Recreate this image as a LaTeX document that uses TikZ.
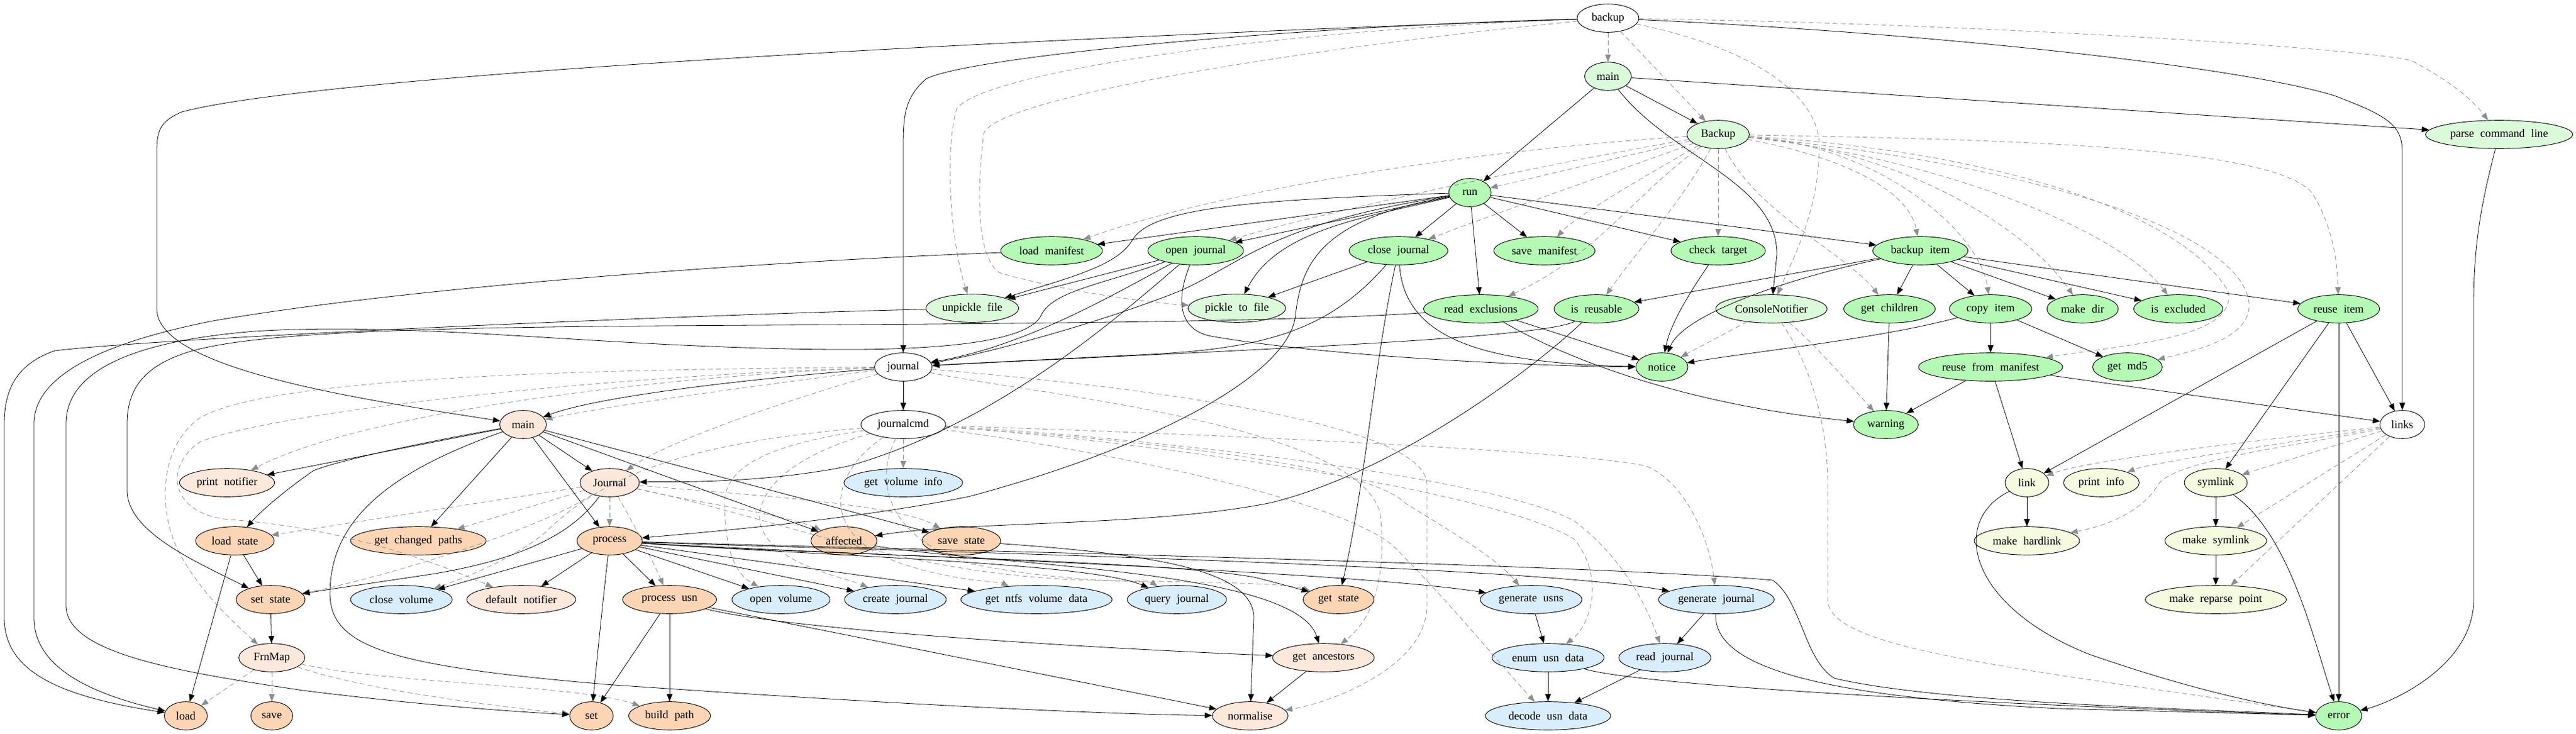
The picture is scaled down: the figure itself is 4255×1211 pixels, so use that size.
\documentclass[tikz,border=0pt]{standalone}
\usepackage{fontspec}
\setmainfont{Liberation Serif}[WordSpace=2.2]
\usetikzlibrary{shapes.geometric,arrows.meta}
\definecolor{cG}{RGB}{180,250,180}
\definecolor{cLG}{RGB}{218,250,218}
\definecolor{cP}{RGB}{252,213,180}
\definecolor{cLP}{RGB}{253,232,220}
\definecolor{cB}{RGB}{217,238,252}
\definecolor{cY}{RGB}{244,251,222}
\definecolor{cGray}{RGB}{138,143,143}
\begin{document}
\begin{tikzpicture}[x=0.75pt,y=-0.75pt,
  nd/.style={ellipse, draw=black, line width=0.7pt, inner sep=0pt, minimum height=35pt, font=\fontsize{14}{16}\selectfont},
  wd/.style={minimum width=#1*0.75pt},
  wh/.style={nd, fill=white}, g/.style={nd, fill=cG}, lg/.style={nd, fill=cLG},
  p/.style={nd, fill=cP}, lp/.style={nd, fill=cLP}, b/.style={nd, fill=cB}, yl/.style={nd, fill=cY},
  call/.style={draw=black, line width=0.6pt, -{Triangle[length=9pt,width=7pt]}},
  mem/.style={draw=cGray, line width=0.6pt, dash pattern=on 6pt off 4pt, -{Triangle[length=9pt,width=7pt]}}]
\fill[white] (0,0) rectangle (4255,1211);
\useasboundingbox (0,0) rectangle (4255,1211);
% nodes
\node[wh,wd=102] (nbk) at (2656,30) {backup};
\node[wh,wd=95] (njm) at (1492,606) {journal};
\node[wh,wd=140] (njc) at (1492,701) {journalcmd};
\node[wh,wd=74] (nlk) at (3968,701) {links};
\node[lg,wd=77] (nbmain) at (2656,126) {main};
\node[lg,wd=103] (nBk) at (2838,222) {Backup};
\node[lg,wd=243] (npcl) at (4128,222) {parse command line};
\node[lg,wd=153] (nunp) at (1606,509) {unpickle file};
\node[lg,wd=161] (nptf) at (2043,509) {pickle to file};
\node[lg,wd=184] (ncn) at (2926,510) {ConsoleNotifier};
\node[g,wd=70] (nrun) at (2428,318) {run};
\node[g,wd=168] (nlm) at (1737,414) {load manifest};
\node[g,wd=158] (noj) at (1975,414) {open journal};
\node[g,wd=163] (ncj) at (2310,414) {close journal};
\node[g,wd=167] (nsm) at (2551,414) {save manifest};
\node[g,wd=156] (nct) at (2838,414) {check target};
\node[g,wd=157] (nbi) at (3172,414) {backup item};
\node[g,wd=189] (nre) at (2446,510) {read exclusions};
\node[g,wd=140] (nir) at (2637,510) {is reusable};
\node[g,wd=151] (ngc) at (3121,510) {get children};
\node[g,wd=136] (nci) at (3288,510) {copy item};
\node[g,wd=118] (nmd) at (3440,510) {make dir};
\node[g,wd=147] (nie) at (3598,510) {is excluded};
\node[g,wd=135] (nri) at (3863,510) {reuse item};
\node[g,wd=238] (nrfm) at (3288,606) {reuse from manifest};
\node[g,wd=115] (ngm) at (3514,606) {get md5};
\node[g,wd=86] (nno) at (2745,606) {notice};
\node[g,wd=107] (nwa) at (3115,701) {warning};
\node[g,wd=76] (ner) at (3863,1182) {error};
\node[lp,wd=77] (njmain) at (864,701) {main};
\node[lp,wd=157] (npn) at (375,797) {print notifier};
\node[lp,wd=98] (nJC) at (1007,797) {Journal};
\node[lp,wd=180] (ndn) at (861,990) {default notifier};
\node[lp,wd=109] (nfm) at (449,1086) {FrnMap};
\node[lp,wd=168] (nga) at (2186,1086) {get ancestors};
\node[lp,wd=125] (nnm) at (2065,1182) {normalise};
\node[p,wd=130] (nls) at (388,893) {load state};
\node[p,wd=224] (ngcp) at (691,893) {get changed paths};
\node[p,wd=108] (npr) at (1007,893) {process};
\node[p,wd=114] (nss) at (447,990) {set state};
\node[p,wd=109] (naf) at (1394,893) {affected};
\node[p,wd=130] (nsv) at (1588,893) {save state};
\node[p,wd=155] (npu) at (1106,990) {process usn};
\node[p,wd=117] (ngs) at (2211,990) {get state};
\node[p,wd=71] (nld) at (307,1182) {load};
\node[p,wd=69] (nsa) at (449,1182) {save};
\node[p,wd=72] (nst) at (977,1182) {set};
\node[p,wd=135] (nbp) at (1106,1182) {build path};
\node[b,wd=196] (ngvi) at (1492,797) {get volume info};
\node[b,wd=168] (ncv) at (663,990) {close volume};
\node[b,wd=162] (nov) at (1290,990) {open volume};
\node[b,wd=168] (ncrj) at (1479,990) {create journal};
\node[b,wd=250] (ngnv) at (1712,990) {get ntfs volume data};
\node[b,wd=164] (nqj) at (1944,990) {query journal};
\node[b,wd=168] (ngu) at (2529,990) {generate usns};
\node[b,wd=191] (ngj) at (2835,990) {generate journal};
\node[b,wd=185] (neud) at (2557,1086) {enum usn data};
\node[b,wd=152] (nrj) at (2750,1086) {read journal};
\node[b,wd=207] (ndud) at (2557,1182) {decode usn data};
\node[yl,wd=72] (nlnk) at (3348,797) {link};
\node[yl,wd=125] (npi) at (3471,797) {print info};
\node[yl,wd=104] (nsy) at (3660,797) {symlink};
\node[yl,wd=174] (nmh) at (3348,893) {make hardlink};
\node[yl,wd=168] (nms) at (3660,893) {make symlink};
\node[yl,wd=233] (nmrp) at (3660,990) {make reparse point};
% ---------- dashed membership edges
\draw[mem] (nbk) -- (nbmain);
\draw[mem] (nbk) -- (nBk);
\draw[mem] (nbk) .. controls (3300,40) and (3900,80) .. (3983,100) .. controls (4040,130) and (4080,160) .. (npcl);
\draw[mem] (nbk) .. controls (2900,80) and (3005,160) .. (3005,240) .. controls (3005,350) and (2960,430) .. (ncn);
\draw[mem] (nbk) .. controls (2100,50) and (1620,120) .. (1580,180) .. controls (1560,250) and (1570,400) .. (nunp);
\draw[mem] (nbk) .. controls (2150,80) and (1650,160) .. (1625,220) .. controls (1615,300) and (1610,420) .. (1650,450) .. controls (1750,480) and (1900,500) .. (nptf);
\draw[mem] (nBk) -- (nrun);
\draw[mem] (nBk) .. controls (2400,250) and (2000,320) .. (nlm);
\draw[mem] (nBk) .. controls (2500,280) and (2150,360) .. (noj);
\draw[mem] (nBk) .. controls (2650,290) and (2450,360) .. (ncj);
\draw[mem] (nBk) .. controls (2700,300) and (2600,360) .. (nsm);
\draw[mem] (nBk) -- (nct);
\draw[mem] (nBk) .. controls (3000,250) and (3150,300) .. (nbi);
\draw[mem] (nBk) .. controls (2700,320) and (2640,420) .. (nre);
\draw[mem] (nBk) .. controls (2780,330) and (2700,420) .. (nir);
\draw[mem] (nBk) .. controls (2900,350) and (3050,420) .. (ngc);
\draw[mem] (nBk) .. controls (3100,240) and (3270,380) .. (nci);
\draw[mem] (nBk) .. controls (3150,250) and (3350,380) .. (nmd);
\draw[mem] (nBk) .. controls (3200,260) and (3500,380) .. (nie);
\draw[mem] (nBk) .. controls (3300,230) and (3760,240) .. (3820,320) .. controls (3850,370) and (3860,420) .. (nri);
\draw[mem] (nBk) .. controls (3300,250) and (3600,350) .. (3680,480) .. controls (3700,560) and (3500,570) .. (nrfm);
\draw[mem] (nBk) .. controls (3350,270) and (3700,380) .. (3715,500) .. controls (3720,560) and (3620,580) .. (ngm);
\draw[mem] (ncn) -- (nno);
\draw[mem] (ncn) .. controls (2990,560) and (3060,640) .. (nwa);
\draw[mem] (ncn) .. controls (2990,600) and (3019,700) .. (3019,800) -- (3019,990) .. controls (3019,1070) and (3300,1100) .. (ner);
\draw[mem] (njm) .. controls (1300,630) and (1000,670) .. (njmain);
\draw[mem] (njm) .. controls (1100,620) and (600,680) .. (npn);
\draw[mem] (njm) .. controls (1000,610) and (450,620) .. (330,690) .. controls (260,740) and (260,850) .. (300,920) .. controls (340,990) and (400,1040) .. (nfm);
\draw[mem] (njm) .. controls (1000,620) and (450,680) .. (330,730) .. controls (270,770) and (280,850) .. (380,858) .. controls (550,870) and (700,920) .. (ndn);
\draw[mem] (njm) .. controls (1300,660) and (1100,730) .. (nJC);
\draw[mem] (njm) .. controls (1700,650) and (2250,700) .. (2280,850) .. controls (2290,950) and (2270,1020) .. (nga);
\draw[mem] (njm) .. controls (1900,640) and (2357,700) .. (2357,800) -- (2357,1000) .. controls (2357,1100) and (2200,1160) .. (nnm);
\draw[mem] (nJC) -- (nls);
\draw[mem] (nJC) -- (ngcp);
\draw[mem] (nJC) -- (npr);
\draw[mem] (nJC) .. controls (900,870) and (650,950) .. (nss);
\draw[mem] (nJC) .. controls (1150,830) and (1300,850) .. (naf);
\draw[mem] (nJC) .. controls (1200,815) and (1480,830) .. (nsv);
\draw[mem] (nJC) .. controls (1050,870) and (1080,930) .. (npu);
\draw[mem] (nJC) .. controls (1300,860) and (1500,950) .. (1800,958) .. controls (2000,962) and (2120,962) .. (ngs);
\draw[mem] (nfm) -- (nld);
\draw[mem] (nfm) -- (nsa);
\draw[mem] (nfm) .. controls (600,1140) and (850,1170) .. (nst);
\draw[mem] (nfm) .. controls (650,1130) and (950,1130) .. (nbp);
\draw[mem] (njc) -- (ngvi);
\draw[mem] (njc) .. controls (1150,730) and (1000,780) .. (900,880) .. controls (850,920) and (780,950) .. (ncv);
\draw[mem] (njc) .. controls (1300,730) and (1197,760) .. (1197,830) .. controls (1197,920) and (1220,950) .. (nov);
\draw[mem] (njc) .. controls (1350,740) and (1250,790) .. (1255,860) .. controls (1265,930) and (1400,955) .. (ncrj);
\draw[mem] (njc) .. controls (1400,760) and (1340,850) .. (1450,915) .. controls (1550,960) and (1650,960) .. (ngnv);
\draw[mem] (njc) .. controls (1450,780) and (1450,880) .. (1600,930) .. controls (1750,962) and (1900,960) .. (nqj);
\draw[mem] (njc) .. controls (1800,720) and (2250,760) .. (2320,830) .. controls (2400,880) and (2470,920) .. (ngu);
\draw[mem] (njc) .. controls (1800,710) and (2600,740) .. (2720,770) .. controls (2790,800) and (2825,900) .. (ngj);
\draw[mem] (njc) .. controls (1800,720) and (2450,800) .. (2600,890) .. controls (2650,950) and (2630,1030) .. (neud);
\draw[mem] (njc) .. controls (1800,715) and (2450,780) .. (2600,860) .. controls (2680,920) and (2720,1000) .. (nrj);
\draw[mem] (njc) .. controls (1800,740) and (2200,820) .. (2300,900) .. controls (2400,1000) and (2480,1100) .. (ndud);
\draw[mem] (nlk) .. controls (3700,730) and (3450,760) .. (nlnk);
\draw[mem] (nlk) .. controls (3750,735) and (3550,765) .. (npi);
\draw[mem] (nlk) -- (nsy);
\draw[mem] (nlk) .. controls (3800,735) and (3590,760) .. (3565,800) .. controls (3535,850) and (3470,870) .. (nmh);
\draw[mem] (nlk) -- (nms);
\draw[mem] (nlk) -- (nmrp);
% ---------- solid call edges
\draw[call] (nbk) .. controls (2100,45) and (1600,95) .. (1530,130) .. controls (1495,160) and (1492,190) .. (1492,240) -- (njm);
\draw[call] (nbk) .. controls (1500,70) and (500,130) .. (300,185) .. controls (265,200) and (259,215) .. (259,250) -- (259,510) .. controls (259,610) and (600,660) .. (njmain);
\draw[call] (nbk) .. controls (3200,55) and (3700,110) .. (3856,158) .. controls (3940,190) and (3968,205) .. (3968,250) -- (nlk);
\draw[call] (nbmain) -- (nrun);
\draw[call] (nbmain) -- (nBk);
\draw[call] (nbmain) .. controls (2760,260) and (2935,300) .. (2935,420) -- (ncn);
\draw[call] (nbmain) -- (npcl);
\draw[call] (nrun) -- (nlm);
\draw[call] (nrun) -- (noj);
\draw[call] (nrun) -- (ncj);
\draw[call] (nrun) -- (nsm);
\draw[call] (nrun) -- (nct);
\draw[call] (nrun) -- (nbi);
\draw[call] (nrun) -- (nre);
\draw[call] (nrun) .. controls (2050,330) and (1900,345) .. (1870,397) .. controls (1845,440) and (1760,460) .. (nunp);
\draw[call] (nrun) .. controls (2250,360) and (2110,380) .. (nptf);
\draw[call] (nrun) .. controls (2100,370) and (2060,430) .. (1950,480) .. controls (1800,540) and (1600,590) .. (njm);
\draw[call] (nrun) .. controls (2200,360) and (2150,420) .. (2140,520) .. controls (2130,620) and (1900,740) .. (1600,820) .. controls (1400,860) and (1150,880) .. (npr);
\draw[call] (noj) -- (nunp);
\draw[call] (noj) .. controls (1850,480) and (1700,570) .. (njm);
\draw[call] (noj) .. controls (1850,520) and (1650,700) .. (1400,770) .. controls (1250,800) and (1100,795) .. (nJC);
\draw[call] (noj) .. controls (1940,500) and (1950,545) .. (2000,555) .. controls (2200,590) and (2550,605) .. (nno);
\draw[call] (noj) .. controls (1820,470) and (1740,480) .. (1720,520) .. controls (1700,565) and (1550,578) .. (1380,577) .. controls (1000,575) and (700,530) .. (420,547) .. controls (200,565) and (109,620) .. (109,700) -- (109,1000) .. controls (109,1080) and (300,1110) .. (500,1140) .. controls (700,1165) and (850,1175) .. (nst);
\draw[call] (nlm) .. controls (1300,430) and (700,470) .. (351,530) .. controls (200,560) and (56,610) .. (56,700) -- (56,1020) .. controls (56,1110) and (170,1150) .. (nld);
\draw[call] (nunp) .. controls (1200,518) and (300,555) .. (91,579) .. controls (30,600) and (7,640) .. (7,700) -- (7,1020) .. controls (7,1110) and (100,1150) .. (nld);
\draw[call] (nre) .. controls (2100,534) and (1500,535) .. (1100,538) .. controls (700,541) and (400,548) .. (300,585) .. controls (230,610) and (210,650) .. (210,700) -- (210,810) .. controls (210,880) and (330,930) .. (nss);
\draw[call] (nre) -- (nno);
\draw[call] (nre) .. controls (2600,600) and (2800,670) .. (nwa);
\draw[call] (ncj) -- (nptf);
\draw[call] (ncj) .. controls (2200,540) and (2100,575) .. (1900,585) .. controls (1700,595) and (1600,600) .. (njm);
\draw[call] (ncj) .. controls (2270,600) and (2255,800) .. (ngs);
\draw[call] (ncj) .. controls (2320,560) and (2450,600) .. (nno);
\draw[call] (nct) .. controls (2800,470) and (2760,530) .. (nno);
\draw[call] (nbi) .. controls (2950,460) and (2780,520) .. (nno);
\draw[call] (nbi) -- (nir);
\draw[call] (nbi) -- (ngc);
\draw[call] (nbi) -- (nci);
\draw[call] (nbi) -- (nmd);
\draw[call] (nbi) -- (nie);
\draw[call] (nbi) -- (nri);
\draw[call] (nir) .. controls (2550,560) and (2000,580) .. (njm);
\draw[call] (nir) .. controls (2520,620) and (2300,780) .. (2100,830) .. controls (1900,870) and (1600,860) .. (naf);
\draw[call] (ngc) -- (nwa);
\draw[call] (nci) .. controls (3100,560) and (2900,580) .. (nno);
\draw[call] (nci) -- (nrfm);
\draw[call] (nci) -- (ngm);
\draw[call] (nrfm) -- (nlnk);
\draw[call] (nrfm) -- (nwa);
\draw[call] (nrfm) -- (nlk);
\draw[call] (nri) -- (nlnk);
\draw[call] (nri) -- (nsy);
\draw[call] (nri) -- (ner);
\draw[call] (nri) -- (nlk);
\draw[call] (nlnk) -- (nmh);
\draw[call] (nlnk) .. controls (3220,860) and (3250,1000) .. (3450,1080) .. controls (3650,1150) and (3780,1170) .. (ner);
\draw[call] (nsy) -- (nms);
\draw[call] (nsy) .. controls (3780,880) and (3820,1050) .. (ner);
\draw[call] (nms) -- (nmrp);
\draw[call] (npcl) .. controls (4100,330) and (4086,400) .. (4086,500) -- (4086,990) .. controls (4086,1100) and (3950,1160) .. (ner);
\draw[call] (njm) -- (njc);
\draw[call] (njm) .. controls (1300,620) and (1000,650) .. (njmain);
\draw[call] (njmain) -- (npn);
\draw[call] (njmain) .. controls (700,730) and (560,760) .. (518,777) .. controls (470,810) and (430,845) .. (nls);
\draw[call] (njmain) -- (ngcp);
\draw[call] (njmain) -- (nJC);
\draw[call] (njmain) -- (npr);
\draw[call] (njmain) -- (naf);
\draw[call] (njmain) -- (nsv);
\draw[call] (njmain) .. controls (640,780) and (545,860) .. (545,980) .. controls (545,1070) and (650,1100) .. (1000,1130) .. controls (1500,1165) and (1850,1180) .. (nnm);
\draw[call] (nJC) .. controls (960,860) and (900,920) .. (700,950) .. controls (600,965) and (530,975) .. (nss);
\draw[call] (nls) -- (nss);
\draw[call] (nls) -- (nld);
\draw[call] (nss) -- (nfm);
\draw[call] (npr) -- (ncv);
\draw[call] (npr) -- (ndn);
\draw[call] (npr) -- (npu);
\draw[call] (npr) .. controls (995,1000) and (985,1100) .. (nst);
\draw[call] (npr) -- (nov);
\draw[call] (npr) -- (ncrj);
\draw[call] (npr) -- (ngnv);
\draw[call] (npr) .. controls (1400,920) and (1800,930) .. (nqj);
\draw[call] (npr) .. controls (1300,915) and (1950,925) .. (2080,955) -- (ngs);
\draw[call] (npr) .. controls (1300,912) and (2200,940) .. (ngu);
\draw[call] (npr) .. controls (1300,905) and (2500,930) .. (ngj);
\draw[call] (npr) .. controls (1400,905) and (2600,930) .. (2928,958) .. controls (2975,990) and (2980,1090) .. (3030,1120) .. controls (3200,1160) and (3600,1170) .. (ner);
\draw[call] (naf) .. controls (1650,935) and (2140,940) .. (nga);
\draw[call] (nsv) .. controls (1900,915) and (2071,940) .. (2071,1020) -- (nnm);
\draw[call] (npu) -- (nst);
\draw[call] (npu) -- (nbp);
\draw[call] (npu) .. controls (1300,1040) and (1800,1070) .. (nga);
\draw[call] (npu) -- (nnm);
\draw[call] (nga) -- (nnm);
\draw[call] (ngu) -- (neud);
\draw[call] (ngj) -- (nrj);
\draw[call] (neud) -- (ndud);
\draw[call] (nrj) -- (ndud);
\draw[call] (ngj) .. controls (2830,1100) and (3000,1150) .. (3400,1170) -- (ner);
\draw[call] (neud) .. controls (2700,1130) and (3200,1160) .. (ner);
\end{tikzpicture}
\end{document}
